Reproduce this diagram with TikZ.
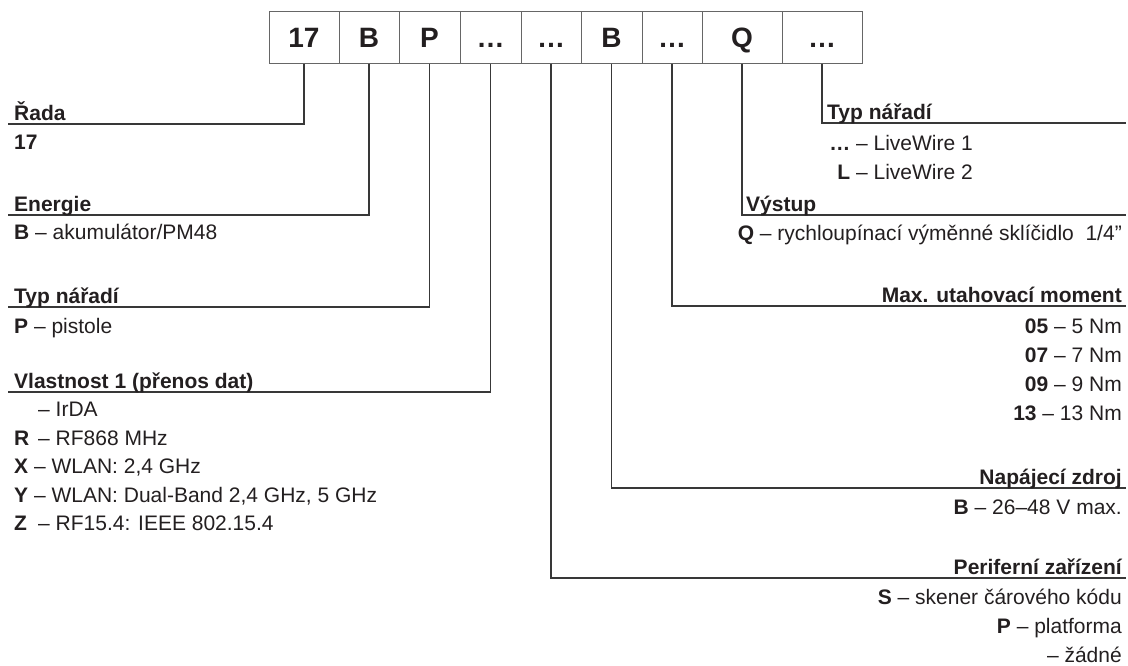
\documentclass[tikz,border=0pt]{standalone}
\usepackage{fontspec}
\setmainfont{Liberation Sans}
\definecolor{txt}{HTML}{231F20}
\begin{document}
\begin{tikzpicture}[x=1pt,y=-1pt,
  codebox/.style={draw=black!60, line width=1pt, minimum height=52pt, inner sep=0pt,
    text height=20pt, text depth=0pt, font=\fontsize{28}{30}\selectfont\bfseries, text=txt},
  conn/.style={draw=black!78, line width=1.1pt},
  hdrL/.style={anchor=base west, inner sep=0pt, text=txt, font=\fontsize{21}{25}\selectfont\bfseries},
  hdrR/.style={anchor=base east, inner sep=0pt, text=txt, font=\fontsize{21}{25}\selectfont\bfseries},
  itemL/.style={anchor=base west, inner sep=0pt, text=txt, font=\fontsize{21}{25}\selectfont},
  itemR/.style={anchor=base east, inner sep=0pt, text=txt, font=\fontsize{21}{25}\selectfont}]
\useasboundingbox (0,0) rectangle (1128,665);

% code boxes
\node[codebox, minimum width=70pt] (b1) at (304,37) {17};
\node[codebox, minimum width=60pt] (b2) at (369,37) {B};
\node[codebox, minimum width=61pt] (b3) at (429.5,37) {P};
\node[codebox, minimum width=61pt] (b4) at (490.5,37) {…};
\node[codebox, minimum width=60pt] (b5) at (551,37) {…};
\node[codebox, minimum width=61pt] (b6) at (611.5,37) {B};
\node[codebox, minimum width=60pt] (b7) at (672,37) {…};
\node[codebox, minimum width=80pt] (b8) at (742,37) {Q};
\node[codebox, minimum width=80pt] (b9) at (822,37) {…};

% connector ends
\coordinate (c1) at (8,124);
\coordinate (c2) at (8,215);
\coordinate (c3) at (8,307);
\coordinate (c4) at (8,392);
\coordinate (c5) at (1126,578);
\coordinate (c6) at (1126,488);
\coordinate (c7) at (1126,306);
\coordinate (c8) at (1126,215);
\coordinate (c9) at (1126,123);

\draw[conn] (b1.south) |- (c1);
\draw[conn] (b2.south) |- (c2);
\draw[conn] (b3.south) |- (c3);
\draw[conn] (b4.south) |- (c4);
\draw[conn] (b5.south) |- (c5);
\draw[conn] (b6.south) |- (c6);
\draw[conn] (b7.south) |- (c7);
\draw[conn] (b8.south) |- (c8);
\draw[conn] (b9.south) |- (c9);

% left texts
\node[hdrL] (h1) at (14,120) {Řada};
\node[hdrL] (v1) at (14,149.5) {17};
\node[hdrL] (h2) at (14,211) {Energie};
\node[itemL] (v2) at (14,239.5) {\textbf{B} – akumulátor/PM48};
\node[hdrL] (h3) at (14,303) {Typ nářadí};
\node[itemL] (v3) at (14,333.5) {\textbf{P} – pistole};
\node[hdrL] (h4) at (14,388) {Vlastnost 1 (přenos dat)};
\node[itemL] (v4a) at (14,416.5) {\makebox[24pt][l]{}– IrDA};
\node[itemL] (v4b) at (14,445) {\makebox[24pt][l]{\textbf{R}}– RF868 MHz};
\node[itemL] (v4c) at (14,473.5) {\textbf{X} – WLAN: 2,4 GHz};
\node[itemL] (v4d) at (14,502) {\textbf{Y} – WLAN: Dual-Band 2,4 GHz, 5 GHz};
\node[itemL] (v4e) at (14,530.5) {\makebox[24pt][l]{\textbf{Z}}– RF15.4: IEEE 802.15.4};

% right texts
\node[hdrL] (h9) at (827,119) {Typ nářadí};
\node[itemR] (v9a) at (973,150.5) {\textbf{…} – LiveWire 1};
\node[itemR] (v9b) at (973,179.5) {\textbf{L} – LiveWire 2};
\node[hdrL] (h8) at (746,211) {Výstup};
\node[itemR] (v8) at (1122,240.5) {\textbf{Q} – rychloupínací výměnné sklíčidlo\ \ 1/4"};
\node[hdrR] (h7) at (1122,302) {Max. utahovací moment};
\node[itemR] (v7a) at (1122,333.5) {\textbf{05} – 5 Nm};
\node[itemR] (v7b) at (1122,362.5) {\textbf{07} – 7 Nm};
\node[itemR] (v7c) at (1122,391.5) {\textbf{09} – 9 Nm};
\node[itemR] (v7d) at (1122,420.5) {\textbf{13} – 13 Nm};
\node[hdrR] (h6) at (1122,484) {Napájecí zdroj};
\node[itemR] (v6) at (1122,514.5) {\textbf{B} – 26–48 V max.};
\node[hdrR] (h5) at (1122,574) {Periferní zařízení};
\node[itemR] (v5a) at (1122,604.5) {\textbf{S} – skener čárového kódu};
\node[itemR] (v5b) at (1122,633.5) {\textbf{P} – platforma};
\node[itemR] (v5c) at (1122,662.5) {– žádné};
\end{tikzpicture}
\end{document}
